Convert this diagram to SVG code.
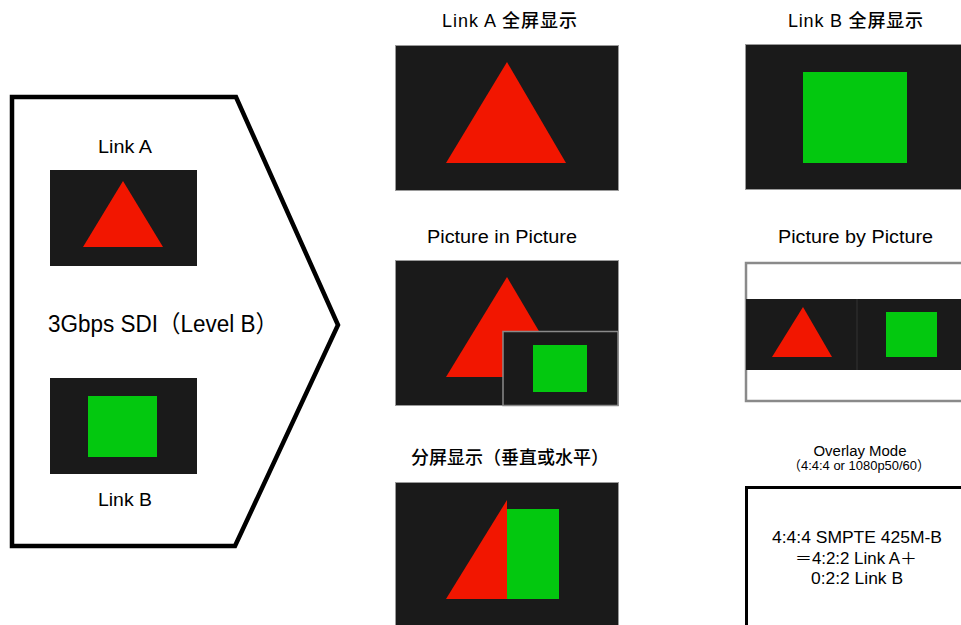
<svg xmlns="http://www.w3.org/2000/svg" width="961" height="625" viewBox="0 0 961 625">
<style>
  .t { font-family: "Liberation Sans", "Noto Sans CJK SC", sans-serif; fill: #000; text-anchor: middle; }
  .h { font-weight: 500; }
  .scr { fill: #1a1a1a; }
  .scrb { fill: #1a1a1a; stroke: #9a9a9a; stroke-width: 1; }
  .red { fill: #f21600; }
  .grn { fill: #03c80f; }
</style>
<rect width="961" height="625" fill="#ffffff"/>

<g id="source">
  <polygon points="12,97 236,97 338,325 235,546 12,546" fill="#ffffff" stroke="#000" stroke-width="4.5" stroke-linejoin="miter"/>
  <text class="t" x="125" y="153" font-size="18" textLength="54" lengthAdjust="spacingAndGlyphs">Link A</text>
  <rect class="scr" x="50" y="170" width="147" height="96"/>
  <polygon class="red" points="123,181 163,247 83,247"/>
  <text class="t" x="163" y="332" font-size="23.5" textLength="230" lengthAdjust="spacingAndGlyphs">3Gbps SDI（Level B）</text>
  <rect class="scr" x="50" y="378" width="147" height="96"/>
  <rect class="grn" x="88" y="396" width="69" height="61"/>
  <text class="t" x="125" y="506" font-size="18" textLength="54" lengthAdjust="spacingAndGlyphs">Link B</text>
</g>

<g id="linkA-full">
  <text class="t h" x="509.5" y="27" font-size="18" textLength="135" lengthAdjust="spacing">Link A 全屏显示</text>
  <rect class="scrb" x="395.5" y="45.5" width="223" height="145"/>
  <polygon class="red" points="507,62 566,163 446,163"/>
</g>

<g id="linkB-full">
  <text class="t h" x="855.5" y="27" font-size="18" textLength="135" lengthAdjust="spacing">Link B 全屏显示</text>
  <rect class="scrb" x="745.5" y="44.5" width="230" height="145"/>
  <rect class="grn" x="803" y="72" width="104" height="91"/>
</g>

<g id="pip">
  <text class="t h" x="502" y="243" font-size="18" textLength="150" lengthAdjust="spacingAndGlyphs">Picture in Picture</text>
  <rect class="scrb" x="395.5" y="260.5" width="223" height="145"/>
  <polygon class="red" points="507,277 566,377 446,377"/>
  <rect x="503" y="331.5" width="115" height="74" fill="#1a1a1a" stroke="#8a8a8a" stroke-width="1.5"/>
  <rect class="grn" x="533" y="345" width="54" height="47"/>
</g>

<g id="pbp">
  <text class="t h" x="855.5" y="243" font-size="18" textLength="155" lengthAdjust="spacingAndGlyphs">Picture by Picture</text>
  <rect x="746" y="263" width="230" height="138" fill="#ffffff" stroke="#8a8a8a" stroke-width="2.5"/>
  <rect class="scr" x="746" y="299" width="230" height="71"/>
  <line x1="857" y1="299" x2="857" y2="370" stroke="#333" stroke-width="1"/>
  <polygon class="red" points="803,307 832,357 772,357"/>
  <rect class="grn" x="886" y="312" width="51" height="45"/>
</g>

<g id="split">
  <text class="t h" x="510" y="464" font-size="18">分屏显示（垂直或水平）</text>
  <rect class="scrb" x="395.5" y="482.5" width="223" height="150"/>
  <polygon class="red" points="507,500 507,599 446,599"/>
  <rect class="grn" x="507" y="509" width="52" height="90"/>
</g>

<g id="overlay">
  <text class="t h" x="860" y="456" font-size="14" textLength="93" lengthAdjust="spacingAndGlyphs">Overlay Mode</text>
  <text class="t" x="859" y="470" font-size="13.5" textLength="142" lengthAdjust="spacingAndGlyphs">（4:4:4 or 1080p50/60）</text>
  <rect x="746.5" y="487.5" width="230" height="150" fill="#ffffff" stroke="#000" stroke-width="3"/>
  <text class="t" x="857" y="543" font-size="16" textLength="170" lengthAdjust="spacingAndGlyphs">4:4:4 SMPTE 425M-B</text>
  <text class="t" x="856" y="564" font-size="16" textLength="122" lengthAdjust="spacingAndGlyphs">＝4:2:2 Link A＋</text>
  <text class="t" x="857" y="584" font-size="16" textLength="92" lengthAdjust="spacingAndGlyphs">0:2:2 Link B</text>
</g>
</svg>
